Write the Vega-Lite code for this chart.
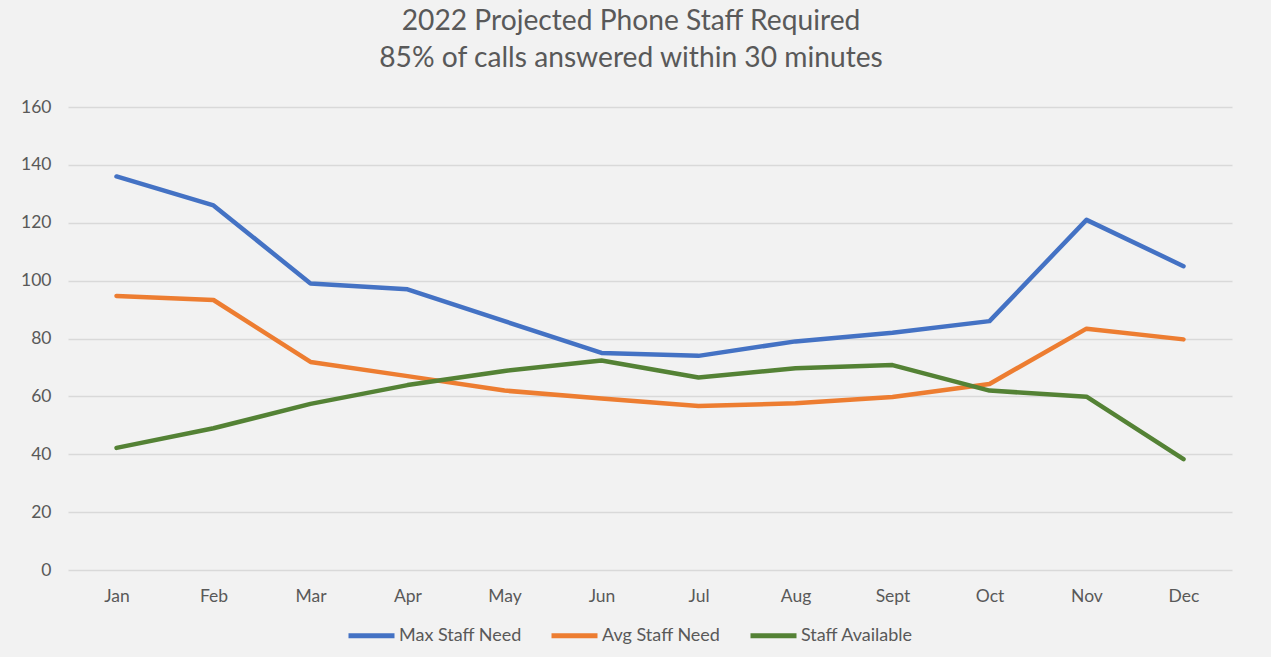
{
  "$schema": "https://vega.github.io/schema/vega-lite/v6.json",
  "autosize": {"type": "none"},
  "padding": {"left": 68, "top": 107, "right": 39, "bottom": 87},
  "width": 1164,
  "height": 463,
  "background": "#F2F2F2",
  "title": {
    "text": ["2022 Projected Phone Staff Required", "85% of calls answered within 30 minutes"],
    "font": "Lato",
    "fontSize": 28.2,
    "fontWeight": "normal",
    "color": "#595959",
    "anchor": "middle",
    "frame": "group",
    "lineHeight": 37,
    "offset": 25,
    "dx": -19
  },
  "config": {
    "view": {"stroke": null},
    "font": "Lato"
  },
  "data": {
    "values": [
      {"month": "Jan", "series": "Max Staff Need", "value": 136},
      {"month": "Feb", "series": "Max Staff Need", "value": 126},
      {"month": "Mar", "series": "Max Staff Need", "value": 99},
      {"month": "Apr", "series": "Max Staff Need", "value": 97},
      {"month": "May", "series": "Max Staff Need", "value": 86},
      {"month": "Jun", "series": "Max Staff Need", "value": 75},
      {"month": "Jul", "series": "Max Staff Need", "value": 74},
      {"month": "Aug", "series": "Max Staff Need", "value": 79},
      {"month": "Sept", "series": "Max Staff Need", "value": 82},
      {"month": "Oct", "series": "Max Staff Need", "value": 86},
      {"month": "Nov", "series": "Max Staff Need", "value": 121},
      {"month": "Dec", "series": "Max Staff Need", "value": 105},
      {"month": "Jan", "series": "Avg Staff Need", "value": 94.7},
      {"month": "Feb", "series": "Avg Staff Need", "value": 93.3},
      {"month": "Mar", "series": "Avg Staff Need", "value": 71.9},
      {"month": "Apr", "series": "Avg Staff Need", "value": 67},
      {"month": "May", "series": "Avg Staff Need", "value": 62},
      {"month": "Jun", "series": "Avg Staff Need", "value": 59.3},
      {"month": "Jul", "series": "Avg Staff Need", "value": 56.7},
      {"month": "Aug", "series": "Avg Staff Need", "value": 57.6},
      {"month": "Sept", "series": "Avg Staff Need", "value": 59.8},
      {"month": "Oct", "series": "Avg Staff Need", "value": 64.3},
      {"month": "Nov", "series": "Avg Staff Need", "value": 83.4},
      {"month": "Dec", "series": "Avg Staff Need", "value": 79.7},
      {"month": "Jan", "series": "Staff Available", "value": 42.2},
      {"month": "Feb", "series": "Staff Available", "value": 49},
      {"month": "Mar", "series": "Staff Available", "value": 57.4},
      {"month": "Apr", "series": "Staff Available", "value": 63.9},
      {"month": "May", "series": "Staff Available", "value": 68.8},
      {"month": "Jun", "series": "Staff Available", "value": 72.4},
      {"month": "Jul", "series": "Staff Available", "value": 66.5},
      {"month": "Aug", "series": "Staff Available", "value": 69.7},
      {"month": "Sept", "series": "Staff Available", "value": 70.8},
      {"month": "Oct", "series": "Staff Available", "value": 62},
      {"month": "Nov", "series": "Staff Available", "value": 59.9},
      {"month": "Dec", "series": "Staff Available", "value": 38.3}
    ]
  },
  "mark": {"type": "line", "strokeWidth": 4.5, "strokeCap": "round", "strokeJoin": "round"},
  "encoding": {
    "x": {
      "field": "month",
      "type": "ordinal",
      "sort": ["Jan", "Feb", "Mar", "Apr", "May", "Jun", "Jul", "Aug", "Sept", "Oct", "Nov", "Dec"],
      "scale": {"type": "point", "padding": 0.5},
      "axis": {
        "title": null,
        "labelAngle": 0,
        "labelFont": "Lato",
        "labelFontSize": 17.5,
        "labelColor": "#595959",
        "labelPadding": 17,
        "ticks": false,
        "domain": false,
        "grid": false
      }
    },
    "y": {
      "field": "value",
      "type": "quantitative",
      "scale": {"domain": [0, 160], "nice": false},
      "axis": {
        "title": null,
        "values": [0, 20, 40, 60, 80, 100, 120, 140, 160],
        "labelFont": "Lato",
        "labelFontSize": 17.5,
        "labelColor": "#595959",
        "labelPadding": 17,
        "ticks": false,
        "domain": false,
        "grid": true,
        "gridColor": "#D9D9D9",
        "gridWidth": 1.3
      }
    },
    "color": {
      "field": "series",
      "type": "nominal",
      "sort": ["Max Staff Need", "Avg Staff Need", "Staff Available"],
      "scale": {
        "domain": ["Max Staff Need", "Avg Staff Need", "Staff Available"],
        "range": ["#4472C4", "#ED7D31", "#548235"]
      },
      "legend": {
        "title": null,
        "orient": "none",
        "direction": "horizontal",
        "legendX": 278,
        "legendY": 503,
        "symbolType": "stroke",
        "symbolSize": 2116,
        "symbolStrokeWidth": 5,
        "labelFont": "Lato",
        "labelFontSize": 18,
        "labelColor": "#595959",
        "labelOffset": 2,
        "columnPadding": 19
      }
    }
  }
}
